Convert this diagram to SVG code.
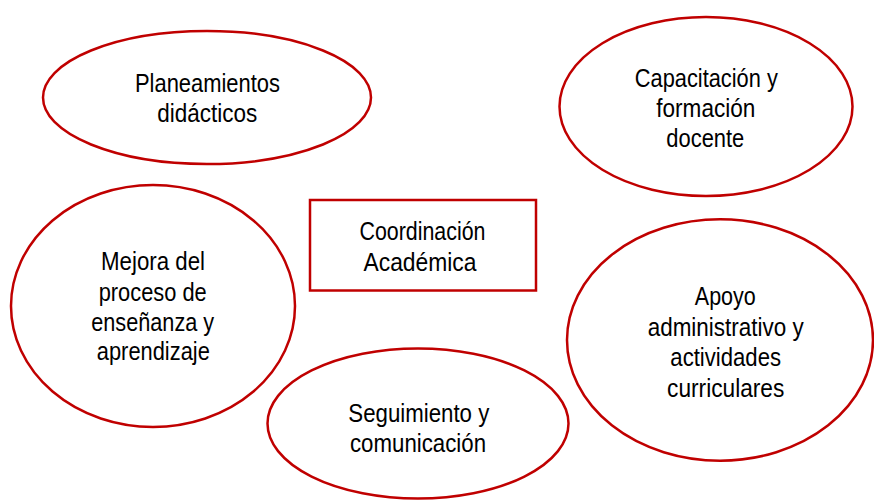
<svg xmlns="http://www.w3.org/2000/svg" width="874" height="501" viewBox="0 0 874 501">
<style>
.shape{fill:#fff;stroke:#C00000;stroke-width:2.5}
.t{font-family:"Liberation Sans",Arial,sans-serif;font-size:25px;fill:#000;text-anchor:middle}
</style>
<rect width="874" height="501" fill="#fff"/>
<g id="connectors"></g>
<g id="n-planeamientos">
<ellipse class="shape" cx="207" cy="97.5" rx="164" ry="66.5"/>
<text class="t" x="207.5" y="92" textLength="145" lengthAdjust="spacingAndGlyphs">Planeamientos</text>
<text class="t" x="207.3" y="122" textLength="100" lengthAdjust="spacingAndGlyphs">didácticos</text>
</g>
<g id="n-capacitacion">
<ellipse class="shape" cx="706" cy="106.5" rx="146.5" ry="89.5"/>
<text class="t" x="706.3" y="87" textLength="143" lengthAdjust="spacingAndGlyphs">Capacitación y</text>
<text class="t" x="705.8" y="117" textLength="99" lengthAdjust="spacingAndGlyphs">formación</text>
<text class="t" x="705.3" y="147" textLength="78" lengthAdjust="spacingAndGlyphs">docente</text>
</g>
<g id="n-coordinacion">
<rect class="shape" x="310" y="200" width="226" height="90.5"/>
<text class="t" x="422.5" y="240" textLength="126" lengthAdjust="spacingAndGlyphs">Coordinación</text>
<text class="t" x="420" y="270.7" textLength="113" lengthAdjust="spacingAndGlyphs">Académica</text>
</g>
<g id="n-mejora">
<ellipse class="shape" cx="153" cy="306" rx="142" ry="121"/>
<text class="t" x="153" y="270" textLength="104" lengthAdjust="spacingAndGlyphs">Mejora del</text>
<text class="t" x="152.7" y="300.5" textLength="108" lengthAdjust="spacingAndGlyphs">proceso de</text>
<text class="t" x="152.7" y="330.7" textLength="123" lengthAdjust="spacingAndGlyphs">enseñanza y</text>
<text class="t" x="153.3" y="360" textLength="113" lengthAdjust="spacingAndGlyphs">aprendizaje</text>
</g>
<g id="n-seguimiento">
<ellipse class="shape" cx="418" cy="423.5" rx="150.5" ry="75"/>
<text class="t" x="418.8" y="421.7" textLength="141" lengthAdjust="spacingAndGlyphs">Seguimiento y</text>
<text class="t" x="418" y="451.7" textLength="136" lengthAdjust="spacingAndGlyphs">comunicación</text>
</g>
<g id="n-apoyo">
<ellipse class="shape" cx="720" cy="340" rx="153" ry="120.7"/>
<text class="t" x="725.3" y="305" textLength="61" lengthAdjust="spacingAndGlyphs">Apoyo</text>
<text class="t" x="725.7" y="335.5" textLength="156" lengthAdjust="spacingAndGlyphs">administrativo y</text>
<text class="t" x="725.7" y="366" textLength="110.7" lengthAdjust="spacingAndGlyphs">actividades</text>
<text class="t" x="725.7" y="396.5" textLength="117.3" lengthAdjust="spacingAndGlyphs">curriculares</text>
</g>
</svg>
